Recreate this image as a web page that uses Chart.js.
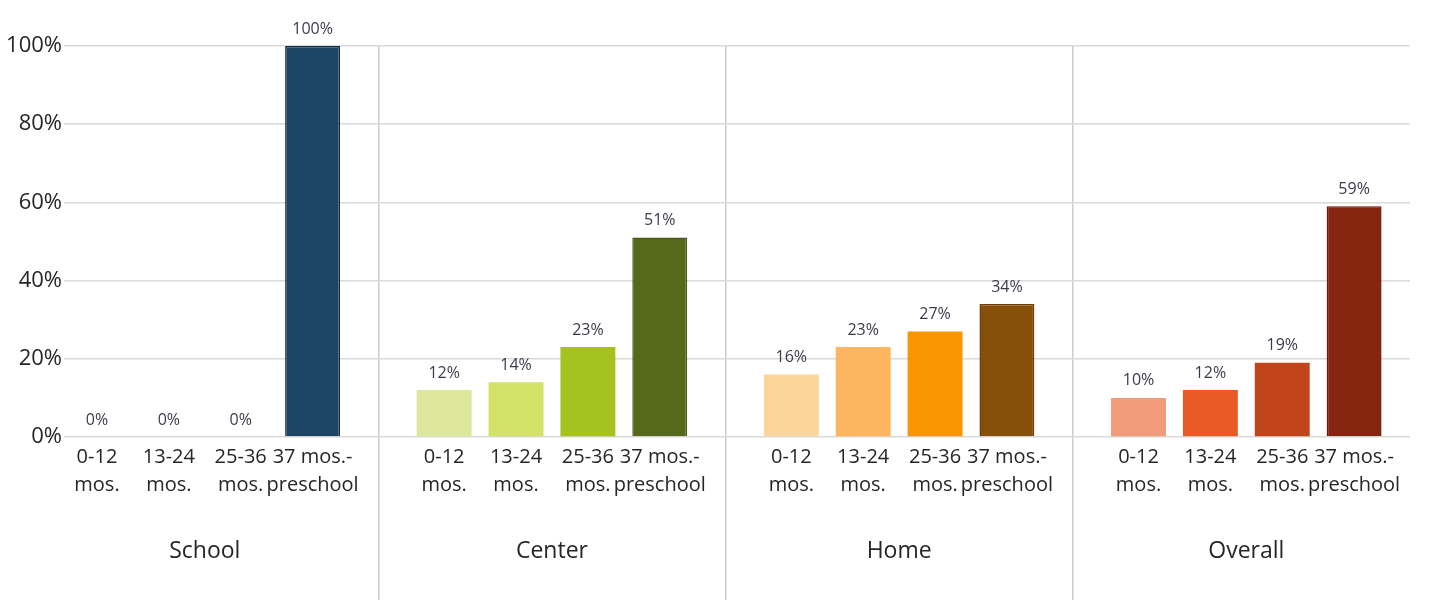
<!DOCTYPE html>
<html>
<head>
<meta charset="utf-8">
<script src="https://cdn.jsdelivr.net/npm/chart.js@4/dist/chart.umd.min.js"></script>
<style>
  html, body { margin: 0; padding: 0; background: #ffffff; }
  #wrap { position: relative; width: 1434px; height: 605px; }
</style>
</head>
<body>
<div id="wrap"><canvas id="chart"></canvas></div>
<script>
// Care settings along the x axis
const settings = ['School', 'Center', 'Home', 'Overall'];

// Age bands, one bar per band inside each setting (two-line labels)
const ageBands = [
  ['0-12', 'mos.'],
  ['13-24', 'mos.'],
  ['25-36', 'mos.'],
  ['37 mos.-', 'preschool']
];

// Percent of children in each age band, per setting
const age0to12   = [0, 12, 16, 10];
const age13to24  = [0, 14, 23, 12];
const age25to36  = [0, 23, 27, 19];
const age37plus  = [100, 51, 34, 59];

// Y axis tick values (percent)
const yTickValues = [0, 20, 40, 60, 80, 100];

// Fill colours per setting (School, Center, Home, Overall)
const colors0to12  = ['#3f6a8a', '#dde89c', '#fdd49b', '#f29b7b'];
const colors13to24 = ['#2f5878', '#d1e267', '#fdb65f', '#ea5a24'];
const colors25to36 = ['#274d6c', '#a5c21f', '#fa9502', '#c1441a'];
const colors37plus = ['#1f4564', '#56691a', '#87500a', '#85240f'];

const FONT = '"Open Sans", "DejaVu Sans", sans-serif';
const TEXT = '#262626';

const seriesValues = [age0to12, age13to24, age25to36, age37plus];
const seriesColors = [colors0to12, colors13to24, colors25to36, colors37plus];

const datasets = seriesValues.map((vals, i) => ({
  label: ageBands[i].join(' '),
  data: vals,
  backgroundColor: seriesColors[i],
  borderColor: i === 3 ? ['#132c40', '#4a5a14', '#6e4006', '#6e1c0a'] : 'rgba(0,0,0,0)',
  borderWidth: i === 3 ? 1.5 : 0,
  borderSkipped: 'bottom',
  categoryPercentage: 0.828,
  barPercentage: 0.764
}));

// Value labels above the bars and age-band labels beneath each bar
const barLabels = {
  id: 'barLabels',
  afterDatasetsDraw(chart) {
    const ctx = chart.ctx;
    const area = chart.chartArea;
    ctx.save();
    ctx.textAlign = 'center';
    chart.data.datasets.forEach((ds, di) => {
      const meta = chart.getDatasetMeta(di);
      meta.data.forEach((bar, i) => {
        // value
        ctx.font = '16px ' + FONT;
        ctx.fillStyle = '#3b3b4c';
        ctx.textBaseline = 'bottom';
        ctx.fillText(ds.data[i] + '%', bar.x, bar.y - 9);
        // age band
        ctx.font = '20px ' + FONT;
        ctx.fillStyle = TEXT;
        ctx.textBaseline = 'middle';
        ctx.fillText(ageBands[di][0], bar.x, area.bottom + 20);
        ctx.fillText(ageBands[di][1], bar.x, area.bottom + 48);
      });
    });
    ctx.restore();
  }
};

new Chart(document.getElementById('chart'), {
  type: 'bar',
  data: { labels: settings, datasets },
  plugins: [barLabels],
  options: {
    responsive: true,
    maintainAspectRatio: false,
    animation: false,
    layout: { padding: { top: 46, right: 24, left: 0, bottom: 0 } },
    plugins: {
      legend: { display: false },
      title: { display: false },
      tooltip: { enabled: false }
    },
    scales: {
      x: {
        type: 'category',
        offset: true,
        afterBuildTicks(scale) {
          // first setting sits closer to the value axis; last one is cut short
          scale._startValue = -0.4055;
          scale._valueRange = 3.877;
        },
        afterFit(scale) { scale.height = 168; },
        grid: {
          display: true,
          offset: true,
          drawOnChartArea: true,
          drawTicks: true,
          tickLength: 163,
          color: '#cbcbcb',
          tickColor: '#cbcbcb',
          lineWidth: 1.5
        },
        border: { display: false },
        ticks: {
          autoSkip: false,
          maxRotation: 0,
          padding: -62,
          color: TEXT,
          font: { family: FONT, size: 23 }
        }
      },
      y: {
        min: 0,
        max: 100,
        afterBuildTicks(scale) {
          scale.ticks = yTickValues.map(v => ({ value: v }));
        },
        afterFit(scale) { scale.width = 64; },
        grid: {
          color: '#dadada',
          lineWidth: 1.5,
          drawTicks: false
        },
        border: { display: false },
        ticks: {
          padding: 2,
          color: TEXT,
          font: { family: FONT, size: 22 },
          callback: v => v + '%'
        }
      }
    }
  }
});
</script>
</body>
</html>
